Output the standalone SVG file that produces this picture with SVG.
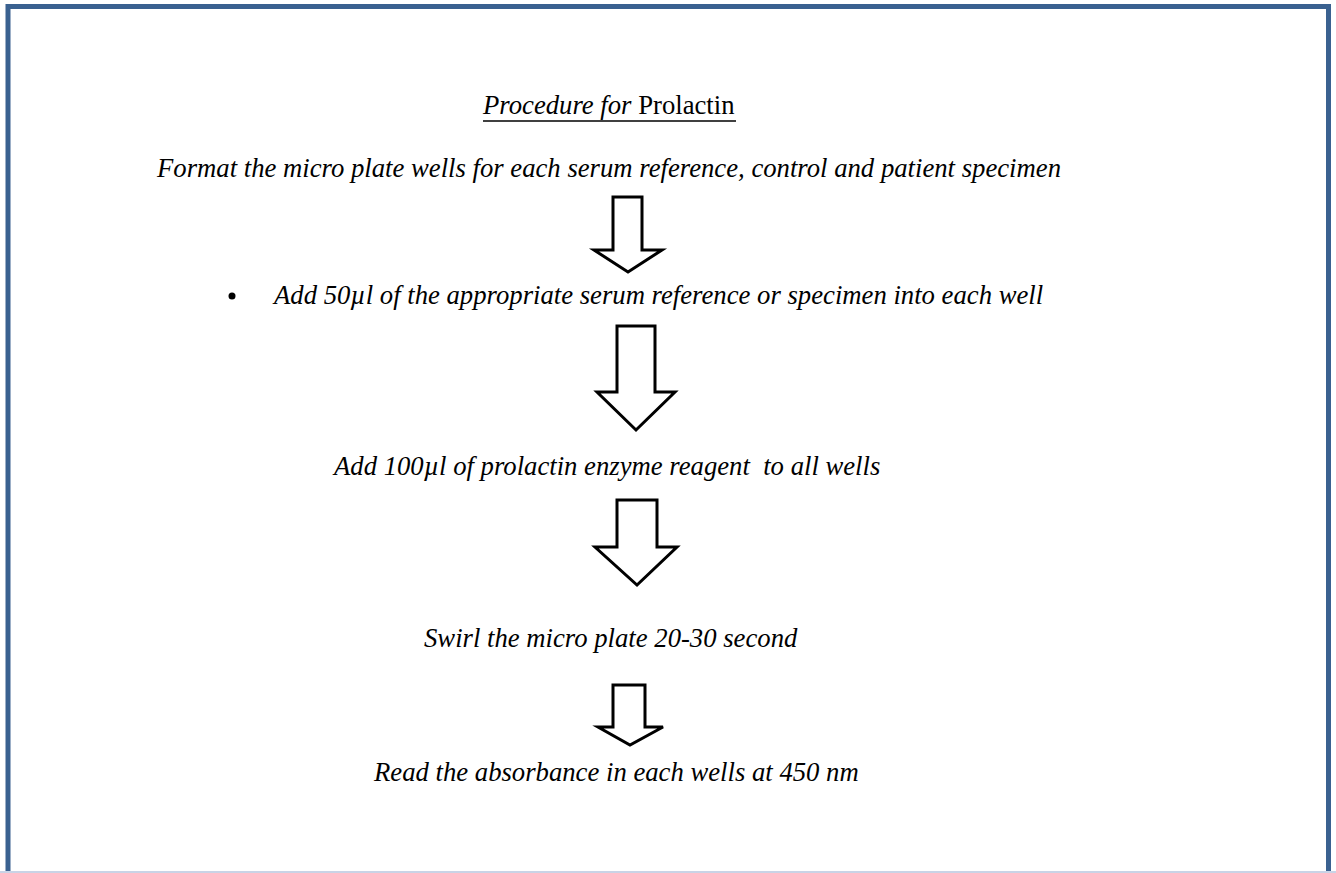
<svg xmlns="http://www.w3.org/2000/svg" width="1336" height="873" viewBox="0 0 1336 873">
<style>
text{font-family:'Liberation Serif','Times New Roman',Times,serif;fill:#000;white-space:pre;font-size:26.7px}
.t{font-style:italic}
.arrow{fill:#fff;stroke:#000;stroke-width:3;stroke-linejoin:miter}
</style>
<rect x="0" y="0" width="1336" height="873" fill="#fff"/>
<g id="frame">
<path d="M8,880 V6.5 H1328.5 V880" fill="none" stroke="#3A6190" stroke-width="5"/>
<rect x="0" y="871" width="1336" height="2" fill="#C9D3E6"/>
</g>
<g id="title">
<text x="483" y="114"><tspan font-style="italic">Procedure for</tspan> Prolactin</text>
<line x1="483" y1="121" x2="736" y2="121" stroke="#000" stroke-width="1.6"/>
</g>
<g id="step1"><text class="t" x="157" y="177">Format the micro plate wells for each serum reference, control and patient specimen</text></g>
<g id="step2"><circle cx="232" cy="296" r="3.5" fill="#000"/><text class="t" x="274" y="304">Add 50µl of the appropriate serum reference or specimen into each well</text></g>
<g id="step3"><text class="t" x="334" y="475">Add 100µl of prolactin enzyme reagent  to all wells</text></g>
<g id="step4"><text class="t" x="424" y="647">Swirl the micro plate 20-30 second</text></g>
<g id="step5"><text class="t" x="374" y="781">Read the absorbance in each wells at 450 nm</text></g>
<g id="connectors">
<path class="arrow" d="M613,197 H642 V250 H662 L628,272 L594,250 H613 Z"/>
<path class="arrow" d="M617,326 H655 V392 H675 L636,430 L597,392 H617 Z"/>
<path class="arrow" d="M617,500 H657 V547 H677 L637,585 L595,547 H617 Z"/>
<path class="arrow" d="M613,685 H645 V727 H663 L630,745 L598,727 H613 Z"/>
</g>
</svg>
